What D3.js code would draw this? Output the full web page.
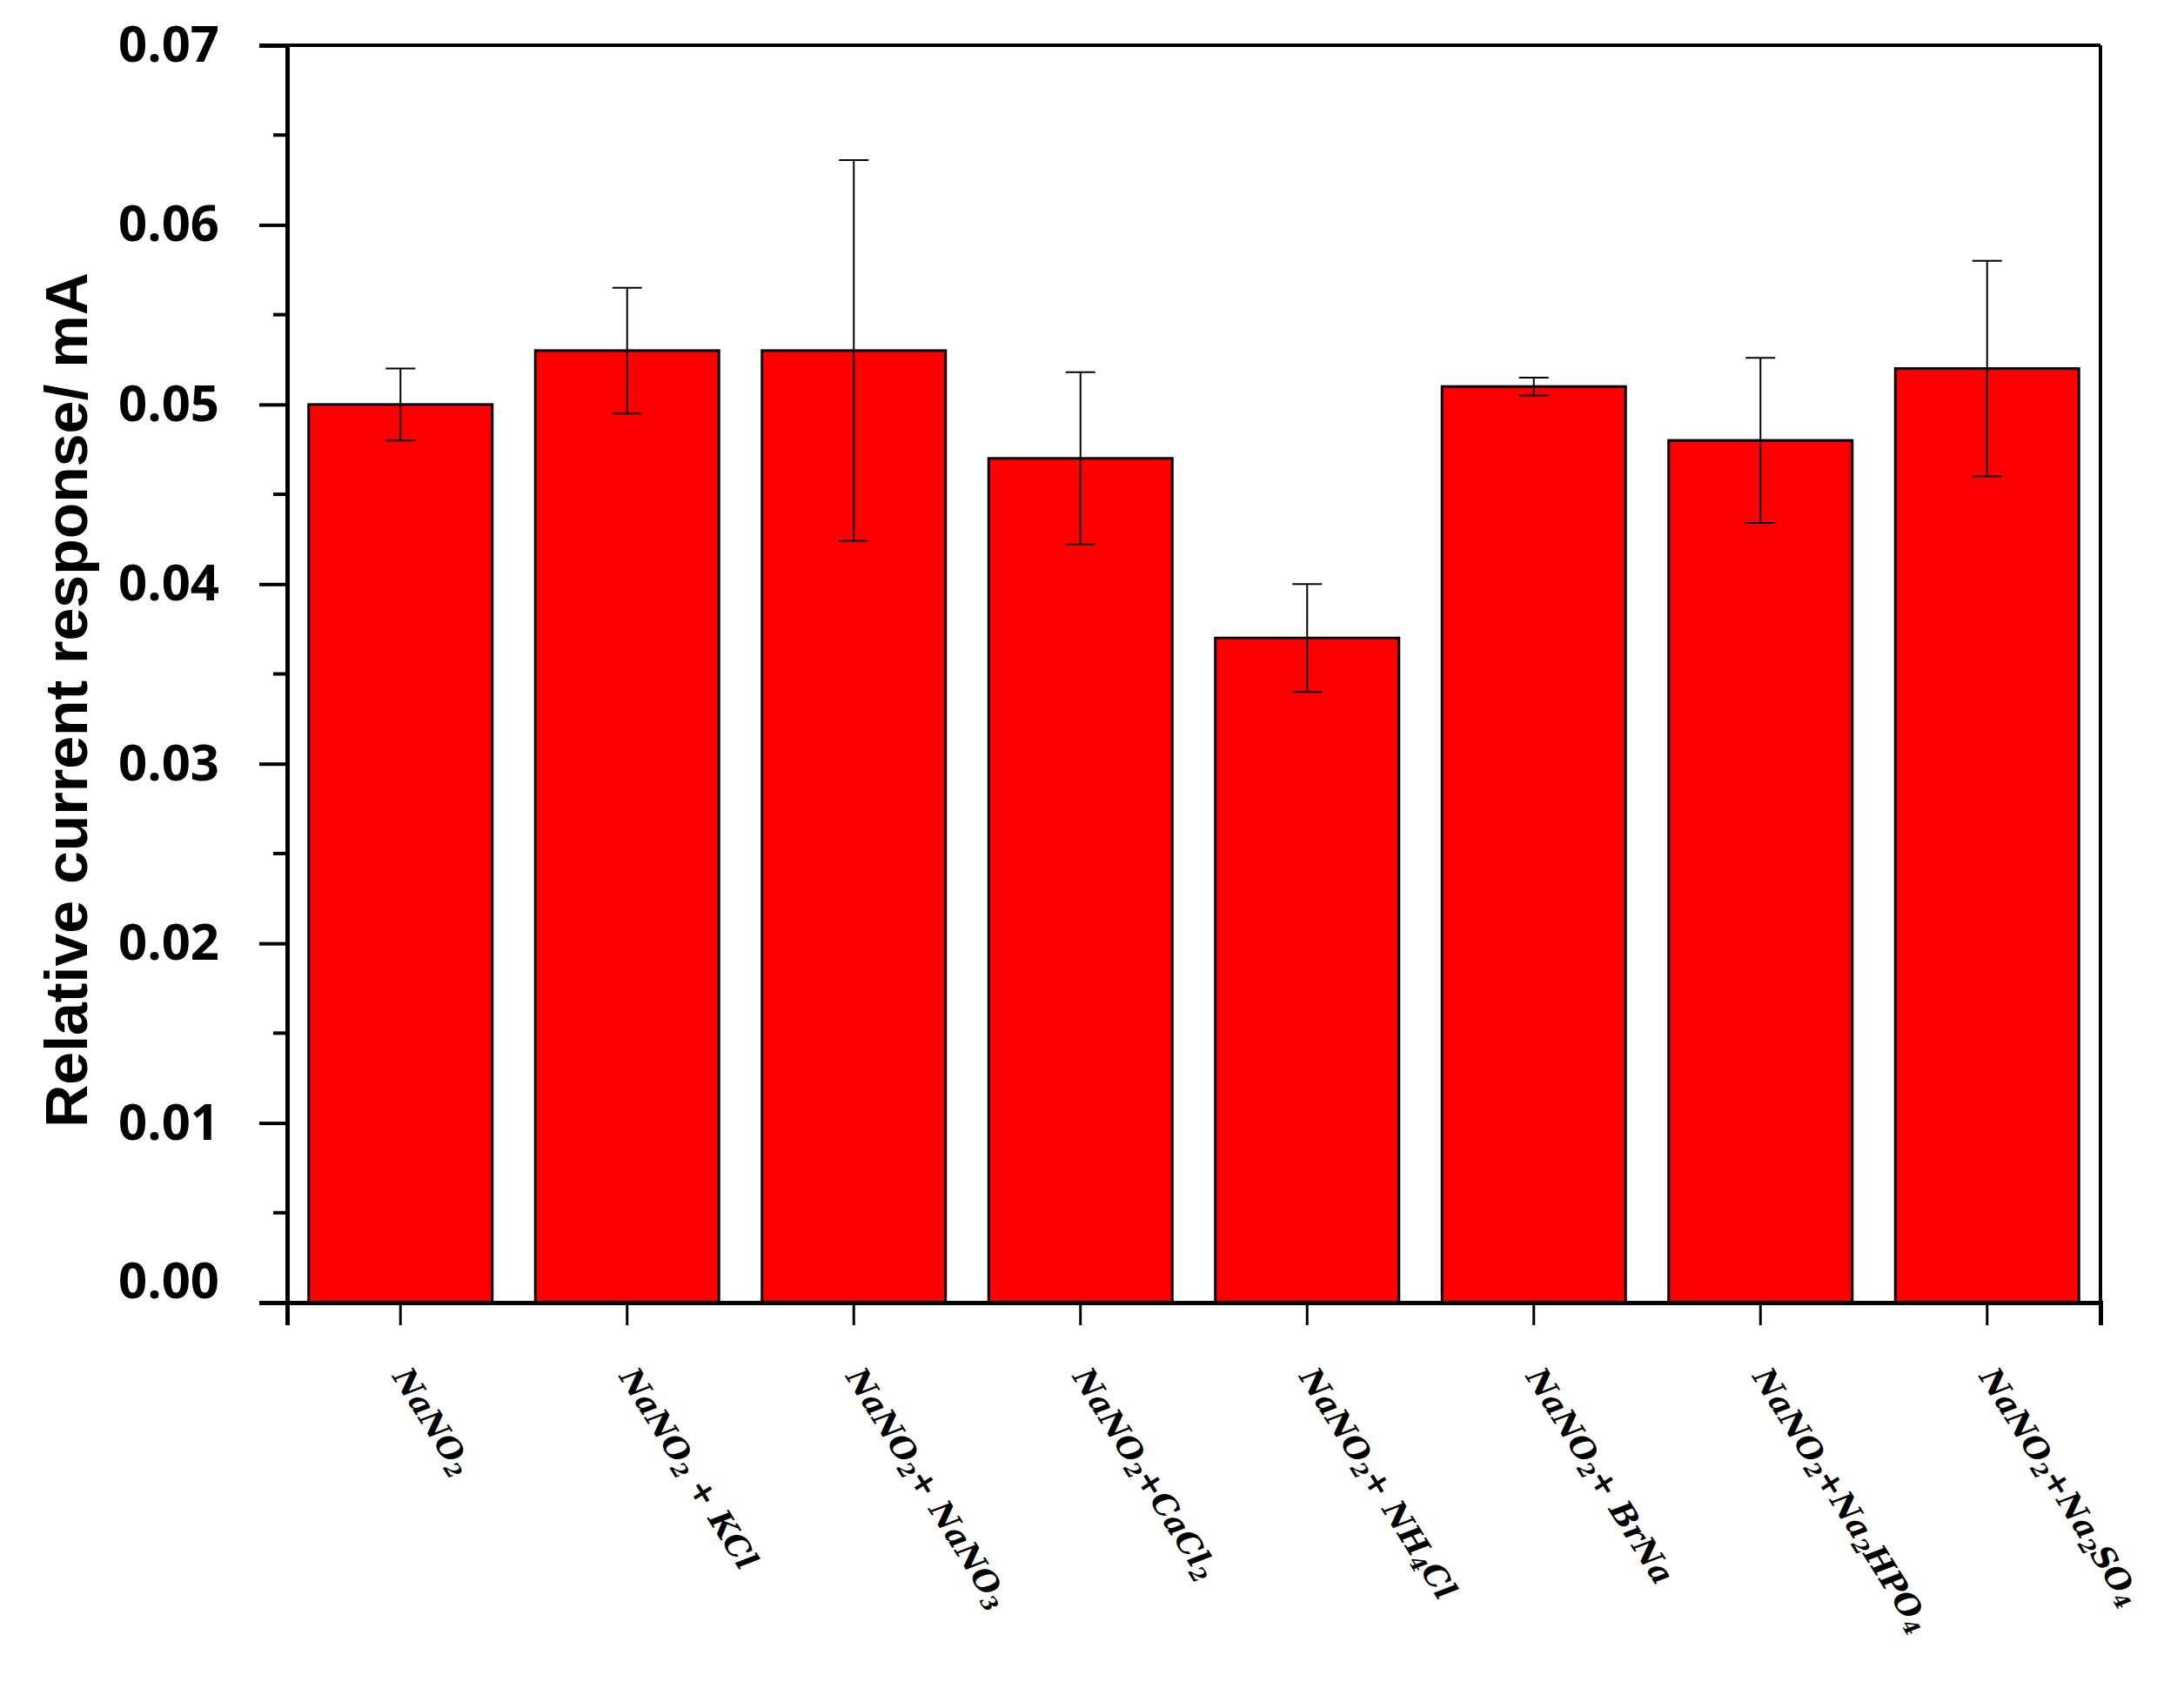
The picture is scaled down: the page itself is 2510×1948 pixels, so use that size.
<!DOCTYPE html>
<html><head><meta charset="utf-8">
<script src="https://cdn.jsdelivr.net/npm/d3@7"></script>
<style>body{margin:0;background:#fff}</style></head>
<body><svg id="c" width="2510" height="1948"></svg>
<script>
const categories = [
  [["NaNO",""],["2","sub"]],
  [["NaNO",""],["2","sub"],[" + KCl",""]],
  [["NaNO",""],["2","sub"],["+ NaNO",""],["3","sub"]],
  [["NaNO",""],["2","sub"],["+CaCl",""],["2","sub"]],
  [["NaNO",""],["2","sub"],["+ NH",""],["4","sub"],["Cl",""]],
  [["NaNO",""],["2","sub"],["+ BrNa",""]],
  [["NaNO",""],["2","sub"],["+Na",""],["2","sub"],["HPO",""],["4","sub"]],
  [["NaNO",""],["2","sub"],["+Na",""],["2","sub"],["SO",""],["4","sub"]]
];
const values = [0.050, 0.053, 0.053, 0.047, 0.037, 0.051, 0.048, 0.052];
const errors = [0.002, 0.0035, 0.0106, 0.0048, 0.003, 0.0005, 0.0046, 0.006];
const yTicks = [0, 0.01, 0.02, 0.03, 0.04, 0.05, 0.06, 0.07];
const yTickLabels = ["0.00","0.01","0.02","0.03","0.04","0.05","0.06","0.07"];

const L=330, R=2414, T=52, B=1497;
const svg=d3.select("#c");
const x=d3.scaleBand().domain(d3.range(categories.length)).range([L,R]).paddingInner(0.19).paddingOuter(0.095);
const y=d3.scaleLinear().domain([0,0.07]).range([B,T]);

// bars
svg.selectAll("rect.bar").data(values).join("rect")
  .attr("x",(d,i)=>x(i)).attr("width",x.bandwidth())
  .attr("y",d=>y(d)).attr("height",d=>B-y(d))
  .attr("fill","#ff0000").attr("stroke","#000").attr("stroke-width",3);

// error bars
const eb=svg.append("g").attr("stroke","#000").attr("stroke-width",2);
values.forEach((v,i)=>{
  const cx=x(i)+x.bandwidth()/2;
  eb.append("line").attr("x1",cx).attr("x2",cx).attr("y1",y(v+errors[i])).attr("y2",y(v-errors[i]));
  [v+errors[i],v-errors[i]].forEach(e=>eb.append("line").attr("x1",cx-17).attr("x2",cx+17).attr("y1",y(e)).attr("y2",y(e)));
});

// frame top/right
svg.append("line").attr("x1",L).attr("x2",R).attr("y1",T).attr("y2",T).attr("stroke","#000").attr("stroke-width",4);
svg.append("line").attr("x1",R).attr("x2",R).attr("y1",T).attr("y2",B).attr("stroke","#000").attr("stroke-width",4);

// y axis
const minor=d3.range(0.005,0.07,0.01);
const ya=svg.append("g").attr("transform",`translate(${L},0)`).call(d3.axisLeft(y).tickValues(yTicks).tickFormat((d,i)=>yTickLabels[i]).tickSize(32).tickPadding(46));
ya.select(".domain").attr("stroke-width",5);
ya.selectAll(".tick line").attr("stroke-width",4);
ya.selectAll(".tick text").attr("font-family","'Open Sans', sans-serif").attr("font-weight","bold").attr("font-size",58).attr("fill","#000");
ya.selectAll(".tick").filter(d=>d===0).select("text").attr("dy","-0.1em");
svg.append("g").selectAll("line").data(minor).join("line")
  .attr("x1",L-16).attr("x2",L).attr("y1",d=>y(d)).attr("y2",d=>y(d)).attr("stroke","#000").attr("stroke-width",4);

// x axis
const xa=svg.append("g").attr("transform",`translate(0,${B})`).call(d3.axisBottom(x).tickSize(26).tickFormat(""));
xa.select(".domain").attr("stroke-width",5);
xa.selectAll(".tick line").attr("stroke-width",3);

// x labels
categories.forEach((parts,i)=>{
  const cx=x(i)+x.bandwidth()/2;
  const t=svg.append("text").attr("transform",`translate(${cx-10},${B+85}) rotate(58)`)
    .attr("font-family","'DejaVu Serif', serif").attr("font-style","italic").attr("font-weight","bold")
    .attr("font-size",36).attr("fill","#000");
  parts.forEach(([s,k])=>{
    const ts=t.append("tspan").text(s);
    if(k==="sub") ts.attr("font-size",24).attr("baseline-shift","-6");
  });
});

// y title
svg.append("text").attr("transform",`translate(100,${(T+B)/2+30}) rotate(-90)`)
  .attr("text-anchor","middle").attr("font-family","'Liberation Sans', Arial, sans-serif")
  .attr("font-weight","bold").attr("font-size",68).attr("fill","#000")
  .text("Relative current response/ mA");
</script></body></html>
